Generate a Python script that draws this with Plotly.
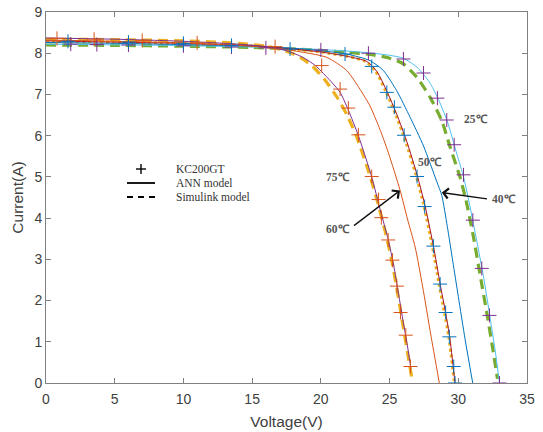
import plotly.graph_objects as go

# ---- KC200GT I-V characteristics at several cell temperatures ----

# 25 degC
v25_meas = [1.8, 3.7, 6.0, 10.0, 13.5, 16.0, 20.0, 23.46, 26.01, 27.47, 28.48, 29.16, 29.7, 30.38, 31.06, 31.71, 32.27, 33.0]
i25_meas = [8.22, 8.21, 8.2, 8.18, 8.15, 8.13, 8.08, 8.0, 7.86, 7.52, 6.91, 6.38, 5.78, 5.05, 3.95, 2.78, 1.64, 0.0]
v25_ann = [0, 3, 6, 9, 12, 15, 18, 20, 22, 23.5, 25, 26, 27, 27.9, 28.5, 29.2, 29.9, 30.4, 30.9, 31.4, 31.9, 32.4, 32.7, 33.0]
i25_ann = [8.22, 8.21, 8.2, 8.19, 8.17, 8.15, 8.12, 8.09, 8.05, 8.01, 7.95, 7.88, 7.66, 7.3, 6.92, 6.35, 5.55, 4.98, 4.2, 3.35, 2.45, 1.4, 0.75, 0.0]
v25_sim = [0, 5, 10, 15, 18, 20, 22, 23.58, 25, 26.01, 26.98, 27.95, 28.8, 29.41, 30.13, 30.55, 31.1, 31.6, 32.1, 32.5, 32.85]
i25_sim = [8.2, 8.19, 8.17, 8.14, 8.1, 8.07, 8.02, 7.97, 7.88, 7.74, 7.42, 6.93, 6.36, 5.72, 4.99, 4.45, 3.55, 2.6, 1.65, 0.85, 0.1]

# 40 degC
v40_ann = [0, 5, 10, 15, 18, 20, 21.89, 23.58, 24.55, 25.52, 26.49, 27.47, 28.44, 28.8, 29.2, 29.6, 30.0, 30.5, 31.05]
i40_ann = [8.26, 8.24, 8.21, 8.17, 8.12, 8.06, 7.98, 7.82, 7.58, 7.09, 6.45, 5.75, 4.88, 4.55, 3.8, 2.95, 2.1, 1.05, 0.0]

# 50 degC
v50_meas = [1.6, 6.0, 10.0, 13.5, 17.76, 21.76, 23.7, 24.8, 25.35, 26.06, 27.0, 27.55, 28.19, 28.68, 29.08, 29.35, 29.67, 29.76]
i50_meas = [8.29, 8.27, 8.24, 8.19, 8.1, 7.98, 7.68, 7.05, 6.69, 6.01, 5.01, 4.28, 3.32, 2.4, 1.71, 1.12, 0.4, 0.0]
v50_ann = [0, 5, 10, 15, 18, 20, 22, 23.34, 24.07, 24.8, 25.52, 26.25, 27.0, 27.58, 28.19, 28.68, 29.08, 29.38, 29.76]
i50_ann = [8.3, 8.27, 8.24, 8.18, 8.1, 8.03, 7.92, 7.8, 7.56, 7.08, 6.52, 5.86, 5.05, 4.3, 3.32, 2.4, 1.7, 1.1, 0.0]
v50_sim = [0, 5, 10, 15, 18, 20, 22, 23.26, 23.99, 24.72, 25.44, 26.17, 26.92, 27.5, 28.11, 28.6, 29.0, 29.32, 29.7]
i50_sim = [8.29, 8.27, 8.24, 8.18, 8.1, 8.03, 7.92, 7.8, 7.56, 7.08, 6.52, 5.86, 5.05, 4.3, 3.32, 2.4, 1.7, 1.1, 0.05]

# 60 degC
v60_ann = [0, 5, 10, 15, 18.0, 20.43, 21.89, 22.86, 23.58, 24.3, 24.9, 25.77, 26.3, 26.86, 27.4, 28.0, 28.62]
i60_ann = [8.32, 8.29, 8.25, 8.17, 8.06, 7.9, 7.58, 7.12, 6.72, 6.15, 5.6, 4.67, 3.98, 3.3, 2.35, 1.17, 0.0]

# 75 degC
v75_meas = [0.8, 3.5, 7.0, 11.0, 16.67, 20.06, 21.4, 22.0, 22.73, 23.7, 24.2, 24.4, 24.9, 25.21, 25.53, 25.8, 26.18, 26.52]
i75_meas = [8.36, 8.34, 8.31, 8.25, 8.16, 7.7, 7.13, 6.67, 6.02, 5.01, 4.45, 4.01, 3.47, 2.98, 2.35, 1.71, 1.16, 0.4]
v75_ann = [0, 5, 10, 14, 16, 17.5, 18.7, 19.6, 20.5, 21.4, 22.0, 22.73, 23.7, 24.3, 24.9, 25.3, 25.65, 26.0, 26.3, 26.55]
i75_ann = [8.37, 8.34, 8.29, 8.22, 8.16, 8.06, 7.9, 7.7, 7.4, 7.05, 6.62, 6.0, 5.0, 4.22, 3.48, 2.85, 2.17, 1.47, 0.9, 0.35]
v75_sim = [0, 5, 10, 14, 16, 17.5, 18.5, 19.4, 20.3, 21.2, 21.9, 22.6, 23.6, 24.2, 24.8, 25.2, 25.55, 25.9, 26.25, 26.6]
i75_sim = [8.34, 8.33, 8.3, 8.24, 8.17, 8.05, 7.9, 7.68, 7.35, 6.92, 6.5, 5.98, 5.0, 4.3, 3.52, 2.9, 2.25, 1.55, 0.85, 0.16]

x_ticks = [0, 5, 10, 15, 20, 25, 30, 35]
y_ticks = [0, 1, 2, 3, 4, 5, 6, 7, 8, 9]

# temperature labels: (text, voltage, current)
temp_labels = [("25\u2103", 31.28, 6.41), ("50\u2103", 27.95, 5.36), ("75\u2103", 21.25, 4.99)]
# arrowed labels: (text, label V, label I, tail V, tail I, tip V, tip I)
arrow_labels = [("60\u2103", 21.25, 3.73, 22.3, 3.79, 25.76, 4.67),
                ("40\u2103", 33.35, 4.46, 32.2, 4.46, 28.8, 4.62)]
legend_names = ["KC200GT", "ANN model", "Simulink model"]

BLUE, ORANGE, YELLOW = "#0072BD", "#D95319", "#EDB120"
PURPLE, GREEN, CYAN, DARKRED = "#7E2F8E", "#77AC30", "#4DBEEE", "#A2142F"

fig = go.Figure()


def line(x, y, color, width=1.0, dash="solid"):
    fig.add_trace(go.Scatter(x=x, y=y, mode="lines", showlegend=False, hoverinfo="skip",
                             line=dict(color=color, width=width, dash=dash, shape="spline", smoothing=0.6)))


def marks(x, y, color):
    fig.add_trace(go.Scatter(x=x, y=y, mode="markers", showlegend=False, hoverinfo="skip",
                             marker=dict(symbol="cross-thin", size=10, line=dict(color=color, width=1.0))))


# simulink curves (thick dashed)
line(v25_sim, i25_sim, GREEN, 3.2, "10px,6px")
line(v75_sim, i75_sim, YELLOW, 3.2, "10px,6px")
line(v50_sim, i50_sim, YELLOW, 3.0, "dot")
# ANN curves (thin solid)
line(v25_ann, i25_ann, CYAN)
line(v40_ann, i40_ann, BLUE)
line(v50_ann, i50_ann, DARKRED)
line(v60_ann, i60_ann, ORANGE)
line(v75_ann, i75_ann, PURPLE)
# measured datasheet points
marks(v25_meas, i25_meas, PURPLE)
marks(v50_meas, i50_meas, BLUE)
marks(v75_meas, i75_meas, ORANGE)

# legend key (paper coordinates inside the axes box)
key_x0, key_x1, key_cx = 0.1684, 0.2266, 0.1975
row_y = [0.5768, 0.5391, 0.5013]
shapes = [
    dict(type="line", xref="paper", yref="paper", x0=key_cx - 0.0104, x1=key_cx + 0.0104,
         y0=row_y[0], y1=row_y[0], line=dict(color="black", width=1.4)),
    dict(type="line", xref="paper", yref="paper", x0=key_cx, x1=key_cx,
         y0=row_y[0] - 0.0135, y1=row_y[0] + 0.0135, line=dict(color="black", width=1.4)),
    dict(type="line", xref="paper", yref="paper", x0=key_x0, x1=key_x1,
         y0=row_y[1], y1=row_y[1], line=dict(color="black", width=1.8)),
    dict(type="line", xref="paper", yref="paper", x0=key_x0, x1=key_x1,
         y0=row_y[2], y1=row_y[2], line=dict(color="black", width=1.8, dash="6px,5px")),
]
for name, yy in zip(legend_names, row_y):
    fig.add_annotation(xref="paper", yref="paper", x=0.2661, y=yy, xanchor="left", yanchor="middle",
                       text=name, showarrow=False,
                       font=dict(family="Liberation Serif", size=11.5, color="#333333"))

label_font = dict(family="Liberation Serif", size=11.5, color="#555555")
for txt, xv, yv in temp_labels:
    fig.add_annotation(x=xv, y=yv, text="<b>%s</b>" % txt, showarrow=False, font=label_font)
for txt, xv, yv, tx, ty, hx, hy in arrow_labels:
    fig.add_annotation(x=xv, y=yv, text="<b>%s</b>" % txt, showarrow=False, font=label_font)
    fig.add_annotation(x=hx, y=hy, ax=tx, ay=ty, axref="x", ayref="y", text="", showarrow=True,
                       arrowhead=4, arrowsize=1.5, arrowwidth=1.3, arrowcolor="#111111")

axis_common = dict(showline=True, linecolor="#808080", linewidth=1, mirror="ticks",
                   ticks="inside", ticklen=5, tickcolor="#808080", showgrid=False, zeroline=False,
                   automargin=False,
                   tickfont=dict(family="Liberation Sans", size=14, color="#404040"))
fig.update_xaxes(range=[0, 35], tickvals=x_ticks, ticklabelstandoff=3,
                 title=dict(text="Voltage(V)", standoff=10,
                            font=dict(family="Liberation Sans", size=15.5, color="#404040")), **axis_common)
fig.update_yaxes(range=[0, 9], tickvals=y_ticks,
                 title=dict(text="Current(A)", standoff=6,
                            font=dict(family="Liberation Sans", size=15.5, color="#404040")), **axis_common)

fig.update_layout(
    width=543, height=432,
    margin=dict(l=46, r=16, t=12, b=49),
    paper_bgcolor="white", plot_bgcolor="white",
    showlegend=False,
    shapes=shapes,
)

fig.write_html("out.html")
